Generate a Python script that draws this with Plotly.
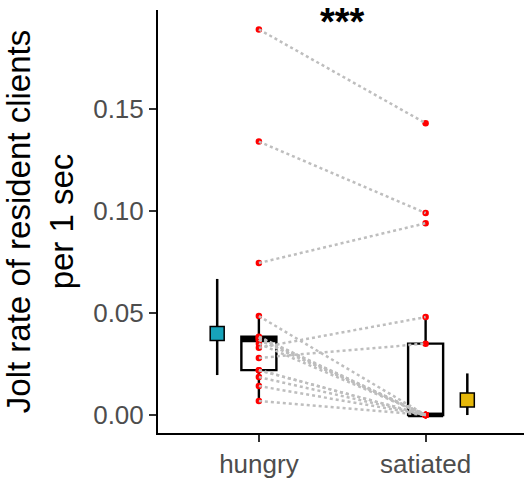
import numpy as np
import plotly.graph_objects as go

categories = ["hungry", "satiated"]
hungry = [0.189, 0.134, 0.0745, 0.0485, 0.0384, 0.038, 0.038, 0.037, 0.0368,
          0.035, 0.033, 0.028, 0.022, 0.0186, 0.022, 0.0142, 0.0069]
satiated = [0.143, 0.099, 0.094, 0.0, 0.0, 0.0, 0.0, 0.0, 0.0, 0.0,
            0.048, 0.035, 0.0, 0.0, 0.0, 0.0, 0.0]
est = [0.040, 0.0074]
est_lo = [0.0196, 0.0]
est_hi = [0.0667, 0.0204]
est_colors = ["#17A3BA", "#E6B80A"]

fig = go.Figure()

xpos = [1, 2]
bw = 0.21
for xp, vals in zip(xpos, [hungry, satiated]):
    v = np.array(vals)
    q1, med, q3 = np.percentile(v, [25, 50, 75])
    iqr = q3 - q1
    lf = v[v >= q1 - 1.5 * iqr].min()
    uf = v[v <= q3 + 1.5 * iqr].max()
    fig.add_trace(go.Box(
        x=[xp], q1=[q1], median=[med], q3=[q3], lowerfence=[lf], upperfence=[uf],
        width=bw, whiskerwidth=0, fillcolor="rgba(255,255,255,0)",
        line=dict(color="black", width=2.4), boxpoints=False, showlegend=False,
    ))
    fig.add_trace(go.Scatter(
        x=[xp - bw / 2, xp + bw / 2], y=[med, med], mode="lines",
        line=dict(color="black", width=4.5), showlegend=False,
    ))

# red points
fig.add_trace(go.Scatter(
    x=[1] * len(hungry) + [2] * len(satiated), y=hungry + satiated, mode="markers",
    marker=dict(color="red", size=6.5, line=dict(width=0)), showlegend=False,
))

# paired lines
for h, s in zip(hungry, satiated):
    fig.add_trace(go.Scatter(
        x=[1, 2], y=[h, s], mode="lines",
        line=dict(color="#BEBEBE", width=2.5, dash="dot"), showlegend=False,
    ))

# estimates
for i, xp in enumerate([0.75, 2.25]):
    fig.add_trace(go.Scatter(
        x=[xp, xp], y=[est_lo[i], est_hi[i]], mode="lines",
        line=dict(color="black", width=2.5), showlegend=False,
    ))
    fig.add_trace(go.Scatter(
        x=[xp], y=[est[i]], mode="markers",
        marker=dict(symbol="square", size=14, color=est_colors[i],
                    line=dict(color="black", width=1.5)),
        showlegend=False,
    ))

fig.add_annotation(x=1.5, y=0.1925, text="<b>***</b>", showarrow=False,
                   font=dict(size=38, color="black", family="Liberation Sans"),
                   yanchor="middle", xanchor="center")

fig.update_layout(
    width=524, height=482,
    margin=dict(l=158, r=0, t=10, b=49),
    plot_bgcolor="white", paper_bgcolor="white",
    font=dict(family="Liberation Sans"),
    xaxis=dict(range=[0.395, 2.59], tickvals=xpos, ticktext=categories,
               showgrid=False, zeroline=False, showline=True, linecolor="black",
               linewidth=2, ticks="outside", ticklen=7, tickwidth=2, tickcolor="#333333",
               tickfont=dict(size=26, color="#4D4D4D")),
    yaxis=dict(range=[-0.0088, 0.1985], tickvals=[0, 0.05, 0.10, 0.15],
               ticktext=["0.00", "0.05", "0.10", "0.15"],
               showgrid=False, zeroline=False, showline=True, linecolor="black",
               linewidth=2, ticks="outside", ticklen=7, tickwidth=2, tickcolor="#333333",
               tickfont=dict(size=26, color="#4D4D4D"),
               title=dict(text="Jolt rate of resident clients<br>per 1 sec",
                          font=dict(size=33, color="black"), standoff=10)),
)

fig.write_html("out.html")
